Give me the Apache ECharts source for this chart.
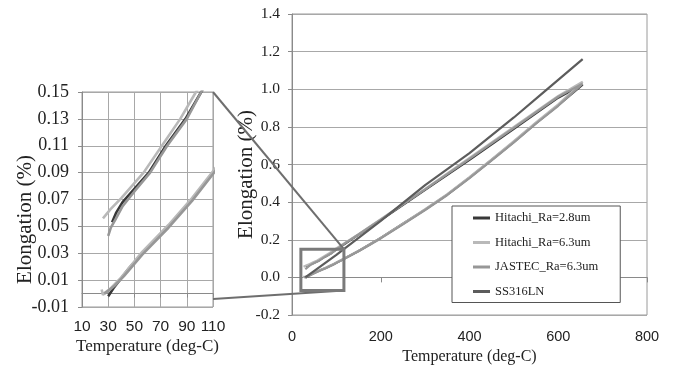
<!DOCTYPE html>
<html>
<head>
<meta charset="utf-8">
<script src="https://cdn.jsdelivr.net/npm/echarts@6/dist/echarts.min.js"></script>
<style>
  html, body { margin: 0; padding: 0; background: #fff; }
  #chart { width: 674px; height: 367px; }
</style>
</head>
<body>
<div id="chart"></div>
<script>
// series names (legend order)
const seriesNames = ['Hitachi_Ra=2.8um', 'Hitachi_Ra=6.3um', 'JASTEC_Ra=6.3um', 'SS316LN']

// Hitachi Ra=2.8um : heating then cooling loop
const hitachi28Temp = [30, 34, 38, 46, 56, 66, 76, 85, 94, 102, 110, 130, 150, 175, 200, 250, 300, 350, 400, 450, 500, 550, 600, 655,
  600, 500, 400, 300, 200, 150, 120, 101, 89, 74, 61, 50, 41, 36, 33]
const hitachi28Elong = [-0.002, 0.004, 0.009, 0.019, 0.030, 0.040, 0.050, 0.060, 0.070, 0.080, 0.090, 0.115, 0.140, 0.175, 0.210, 0.285, 0.360, 0.440, 0.530, 0.625, 0.720, 0.820, 0.915, 1.025,
  0.955, 0.790, 0.625, 0.465, 0.305, 0.227, 0.180, 0.150, 0.130, 0.110, 0.090, 0.078, 0.068, 0.060, 0.053]

// Hitachi Ra=6.3um
const hitachi63Temp = [25, 26, 28, 32, 40, 56, 76, 94, 110, 150, 200, 250, 300, 350, 400, 450, 500, 550, 600, 655,
  600, 500, 400, 300, 200, 150, 120, 97, 85, 71, 57, 48, 40, 32, 26]
const hitachi63Elong = [0.003, -0.001, 0.001, 0.004, 0.012, 0.031, 0.051, 0.071, 0.091, 0.141, 0.210, 0.285, 0.362, 0.442, 0.533, 0.628, 0.724, 0.824, 0.920, 1.040,
  0.965, 0.800, 0.635, 0.470, 0.310, 0.230, 0.185, 0.150, 0.130, 0.110, 0.090, 0.080, 0.071, 0.063, 0.056]

// JASTEC Ra=6.3um
const jastecTemp = [27, 30, 35, 42, 56, 76, 94, 110, 150, 200, 250, 300, 350, 400, 450, 500, 550, 600, 655,
  600, 500, 400, 300, 200, 150, 120, 101, 90, 75, 62, 50, 41, 36, 32, 30]
const jastecElong = [0.000, 0.002, 0.006, 0.013, 0.029, 0.049, 0.069, 0.089, 0.139, 0.207, 0.282, 0.358, 0.438, 0.528, 0.622, 0.718, 0.818, 0.912, 1.030,
  0.960, 0.795, 0.630, 0.468, 0.307, 0.228, 0.182, 0.150, 0.130, 0.110, 0.090, 0.076, 0.065, 0.056, 0.049, 0.043]

// SS316LN reference
const ss316Temp = [30, 100, 200, 300, 400, 500, 570, 655]
const ss316Elong = [0.0, 0.12, 0.30, 0.49, 0.66, 0.85, 0.99, 1.16]

// axis ranges / ticks
const mainX = [0, 800, 200]
const mainY = [-0.2, 1.4, 0.2]
const insetX = [10, 110, 20]
const insetY = [-0.01, 0.15, 0.02]

// zoom box on main chart [xmin, xmax, ymin, ymax] and connector anchors on inset
const zoomBox = [20, 117, -0.07, 0.15]
const insetAnchors = [[110, 0.15], [110, -0.004]]

const colors = ['#383838', '#b9b9b9', '#979797', '#5c5c5c']
const serif = 'Liberation Serif'
const sans = 'Liberation Sans'

function pairs(xs, ys) {
  return xs.map((x, i) => [x, ys[i]])
}

const allData = [
  pairs(hitachi28Temp, hitachi28Elong),
  pairs(hitachi63Temp, hitachi63Elong),
  pairs(jastecTemp, jastecElong),
  pairs(ss316Temp, ss316Elong)
]

const chart = echarts.init(document.getElementById('chart'), null, { renderer: 'canvas' })

const series = []
// main chart (grid 0)
allData.forEach((d, i) => {
  series.push({
    name: seriesNames[i],
    type: 'line',
    xAxisIndex: 0,
    yAxisIndex: 0,
    data: d,
    showSymbol: false,
    symbol: 'none',
    lineStyle: { width: 2.2, color: colors[i] },
    itemStyle: { color: colors[i] },
    z: 3,
    animation: false
  })
})
// inset (grid 1) - only the three samples
for (let i = 0; i < 3; i++) {
  series.push({
    name: seriesNames[i],
    type: 'line',
    xAxisIndex: 1,
    yAxisIndex: 1,
    data: allData[i],
    showSymbol: false,
    symbol: 'none',
    clip: true,
    lineStyle: { width: 2.6, color: colors[i] },
    itemStyle: { color: colors[i] },
    z: 3,
    animation: false
  })
}

const option = {
  backgroundColor: '#fff',
  animation: false,
  grid: [
    { left: 292, right: 27, top: 14, bottom: 52, show: true, borderColor: '#9a9a9a', borderWidth: 1, outerBoundsMode: 'none' },
    { left: 82, width: 131, top: 92, height: 215, show: true, borderColor: '#9a9a9a', borderWidth: 1, outerBoundsMode: 'none' }
  ],
  legend: {
    data: seriesNames,
    orient: 'vertical',
    left: 452,
    top: 206,
    padding: [5, 22, 4, 21],
    itemGap: 10.5,
    itemWidth: 17,
    itemHeight: 3,
    icon: 'rect',
    backgroundColor: '#fff',
    borderColor: '#555',
    borderWidth: 1,
    textStyle: { fontFamily: serif, fontSize: 12.5, color: '#222', lineHeight: 14, padding: [0, 0, 0, 0] }
  },
  xAxis: [
    {
      type: 'value', gridIndex: 0,
      min: mainX[0], max: mainX[1], interval: mainX[2],
      name: 'Temperature (deg-C)', nameLocation: 'middle', nameGap: 34, nameMoveOverlap: false,
      nameTextStyle: { fontFamily: serif, fontSize: 16, color: '#222' },
      axisLine: { lineStyle: { color: '#8a8a8a' } },
      axisTick: { show: true, length: 5, lineStyle: { color: '#8a8a8a' } },
      splitLine: { show: false },
      axisLabel: { fontFamily: sans, fontSize: 14.5, color: '#222', margin: 14 }
    },
    {
      type: 'value', gridIndex: 1,
      min: insetX[0], max: insetX[1], interval: insetX[2],
      name: 'Temperature (deg-C)', nameLocation: 'middle', nameGap: 31, nameMoveOverlap: false,
      nameTextStyle: { fontFamily: serif, fontSize: 17, color: '#222' },
      axisLine: { lineStyle: { color: '#8a8a8a' } },
      axisTick: { show: true, length: 4, lineStyle: { color: '#8a8a8a' } },
      splitLine: { show: true, lineStyle: { color: '#a8a8a8', width: 1 } },
      axisLabel: { fontFamily: sans, fontSize: 15.5, color: '#222', margin: 12 }
    }
  ],
  yAxis: [
    {
      type: 'value', gridIndex: 0,
      min: mainY[0], max: mainY[1], interval: mainY[2],
      name: 'Elongation (%)', nameLocation: 'middle', nameGap: 35, nameRotate: 90, nameMoveOverlap: false,
      nameTextStyle: { fontFamily: serif, fontSize: 21, color: '#222', padding: [0, 20, 0, 0] },
      axisLine: { show: true, lineStyle: { color: '#8a8a8a' } },
      axisTick: { show: true, length: 4, lineStyle: { color: '#8a8a8a' } },
      splitLine: { show: true, lineStyle: { color: '#a8a8a8', width: 1 } },
      axisLabel: {
        fontFamily: serif, fontSize: 15.5, color: '#222', margin: 12,
        formatter: v => v.toFixed(1)
      }
    },
    {
      type: 'value', gridIndex: 1,
      min: insetY[0], max: insetY[1], interval: insetY[2],
      name: 'Elongation (%)', nameLocation: 'middle', nameGap: 46, nameRotate: 90, nameMoveOverlap: false,
      nameTextStyle: { fontFamily: serif, fontSize: 21, color: '#222', padding: [0, 40, 0, 0] },
      axisLine: { show: true, lineStyle: { color: '#8a8a8a' } },
      axisTick: { show: true, length: 4, lineStyle: { color: '#8a8a8a' } },
      splitLine: { show: true, lineStyle: { color: '#a8a8a8', width: 1 } },
      axisLabel: {
        fontFamily: serif, fontSize: 18, color: '#222', margin: 13,
        formatter: v => v.toFixed(2)
      }
    }
  ],
  series: series
}

chart.setOption(option)

// zoom box and connector lines, placed through the axes
function drawCallouts() {
  const toMain = p => chart.convertToPixel({ xAxisIndex: 0, yAxisIndex: 0 }, p)
  const toInset = p => chart.convertToPixel({ xAxisIndex: 1, yAxisIndex: 1 }, p)
  const tl = toMain([zoomBox[0], zoomBox[3]])
  const br = toMain([zoomBox[1], zoomBox[2]])
  const boxTopRight = [br[0], tl[1]]
  const boxBottomRight = [br[0], br[1]]
  const a0 = toInset(insetAnchors[0])
  const a1 = toInset(insetAnchors[1])
  chart.setOption({
    graphic: [
      {
        type: 'line', z: 10,
        shape: { x1: a0[0], y1: a0[1], x2: boxTopRight[0], y2: boxTopRight[1] },
        style: { stroke: '#6e6e6e', lineWidth: 2 }
      },
      {
        type: 'line', z: 10,
        shape: { x1: a1[0], y1: a1[1], x2: boxBottomRight[0], y2: boxBottomRight[1] },
        style: { stroke: '#6e6e6e', lineWidth: 2 }
      },
      {
        type: 'rect', z: 10,
        shape: { x: tl[0], y: tl[1], width: br[0] - tl[0], height: br[1] - tl[1] },
        style: { fill: 'none', stroke: '#7a7a7a', lineWidth: 3 }
      }
    ]
  })
}
drawCallouts()
</script>
</body>
</html>
